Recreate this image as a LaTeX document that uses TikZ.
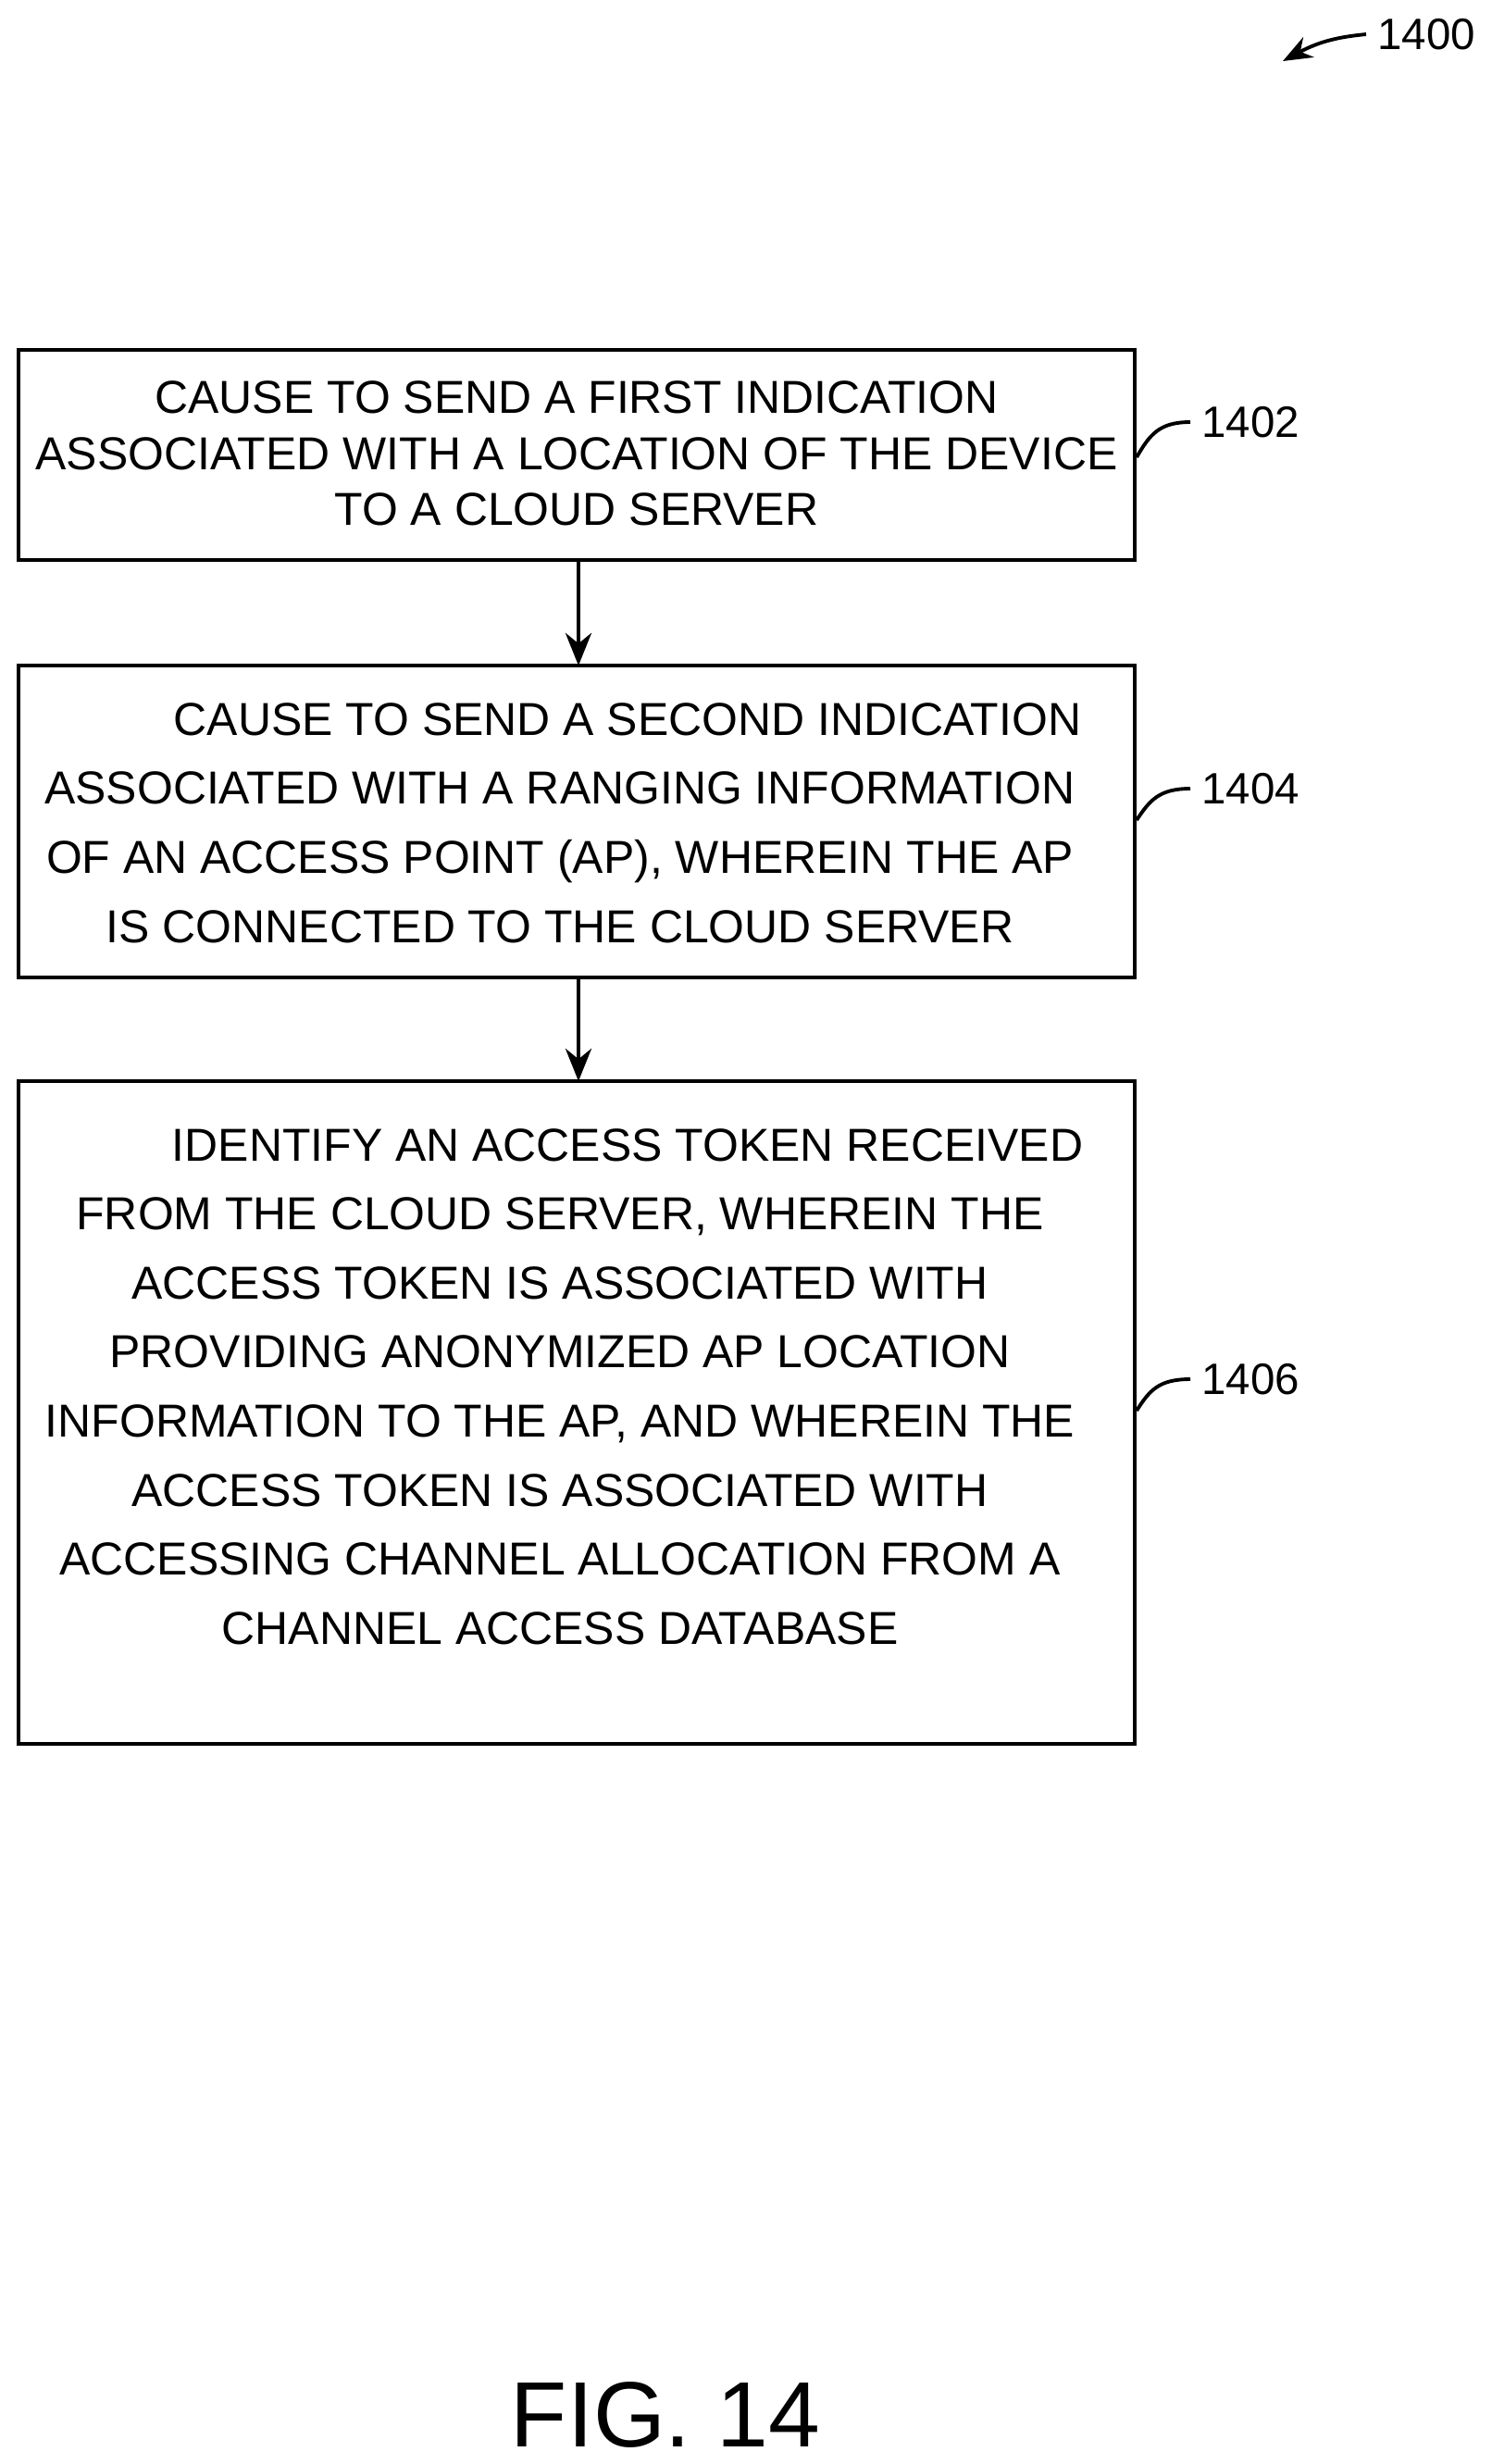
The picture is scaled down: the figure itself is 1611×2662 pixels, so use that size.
\documentclass[tikz,border=0pt]{standalone}
\usepackage{fontspec}
\setmainfont{Liberation Sans}
\usetikzlibrary{arrows.meta}
\begin{document}
\begin{tikzpicture}[x=0.01cm,y=-0.01cm,
  box/.style={draw,line width=1.2pt},
  txt/.style={align=center,font=\fontsize{14.2}{21.2}\selectfont},
  lbl/.style={font=\fontsize{13.5}{16}\selectfont,anchor=west},
  arr/.style={-{Stealth[length=10pt,width=8pt]},line width=1.2pt},
  sq/.style={line width=1.1pt}]
\useasboundingbox (0,0) rectangle (1611,2662);
\draw[box] (20,378) rectangle (1226,605);
\draw[box] (20,719) rectangle (1226,1056);
\draw[box] (20,1168) rectangle (1226,1884);
\node[txt,font=\fontsize{14.2}{17.2}\selectfont] (t1) at (623,490) {CAUSE TO SEND A FIRST INDICATION\\ASSOCIATED WITH A LOCATION OF THE DEVICE\\TO A CLOUD SERVER};
\node[txt] (t2) at (605,889) {\hspace*{1.46cm}CAUSE TO SEND A SECOND INDICATION\\ASSOCIATED WITH A RANGING INFORMATION\\OF AN ACCESS POINT (AP), WHEREIN THE AP\\IS CONNECTED TO THE CLOUD SERVER};
\node[txt] (t3) at (605,1498) {\hspace*{1.46cm}IDENTIFY AN ACCESS TOKEN RECEIVED\\FROM THE CLOUD SERVER, WHEREIN THE\\ACCESS TOKEN IS ASSOCIATED WITH\\PROVIDING ANONYMIZED AP LOCATION\\INFORMATION TO THE AP, AND WHEREIN THE\\ACCESS TOKEN IS ASSOCIATED WITH\\ACCESSING CHANNEL ALLOCATION FROM A\\CHANNEL ACCESS DATABASE};
\coordinate (a1) at (625,605); \coordinate (b1) at (625,719);
\coordinate (a2) at (625,1056); \coordinate (b2) at (625,1168);
\draw[arr] (a1) -- (b1);
\draw[arr] (a2) -- (b2);
\node[lbl] (l1) at (1286,456) {1402};
\node[lbl] (l2) at (1286,852) {1404};
\node[lbl] (l3) at (1286,1490) {1406};
\node[lbl] (l0) at (1476,37) {1400};
\coordinate (e1) at (1228,494); \coordinate (e2) at (1228,886); \coordinate (e3) at (1228,1524);
\draw[sq] (e1) .. controls (1242,470) and (1252,456) .. (l1.west);
\draw[sq] (e2) .. controls (1242,865) and (1252,852) .. (l2.west);
\draw[sq] (e3) .. controls (1242,1502) and (1252,1490) .. (l3.west);
\coordinate (p0) at (1386,66);
\draw[sq,-{Stealth[length=9pt,width=7pt]}] (l0.west) .. controls (1445,40) and (1425,45) .. (p0);
\node[font=\fontsize{28.5}{30}\selectfont] (fig) at (719,2609) {FIG. 14};
\end{tikzpicture}
\end{document}
